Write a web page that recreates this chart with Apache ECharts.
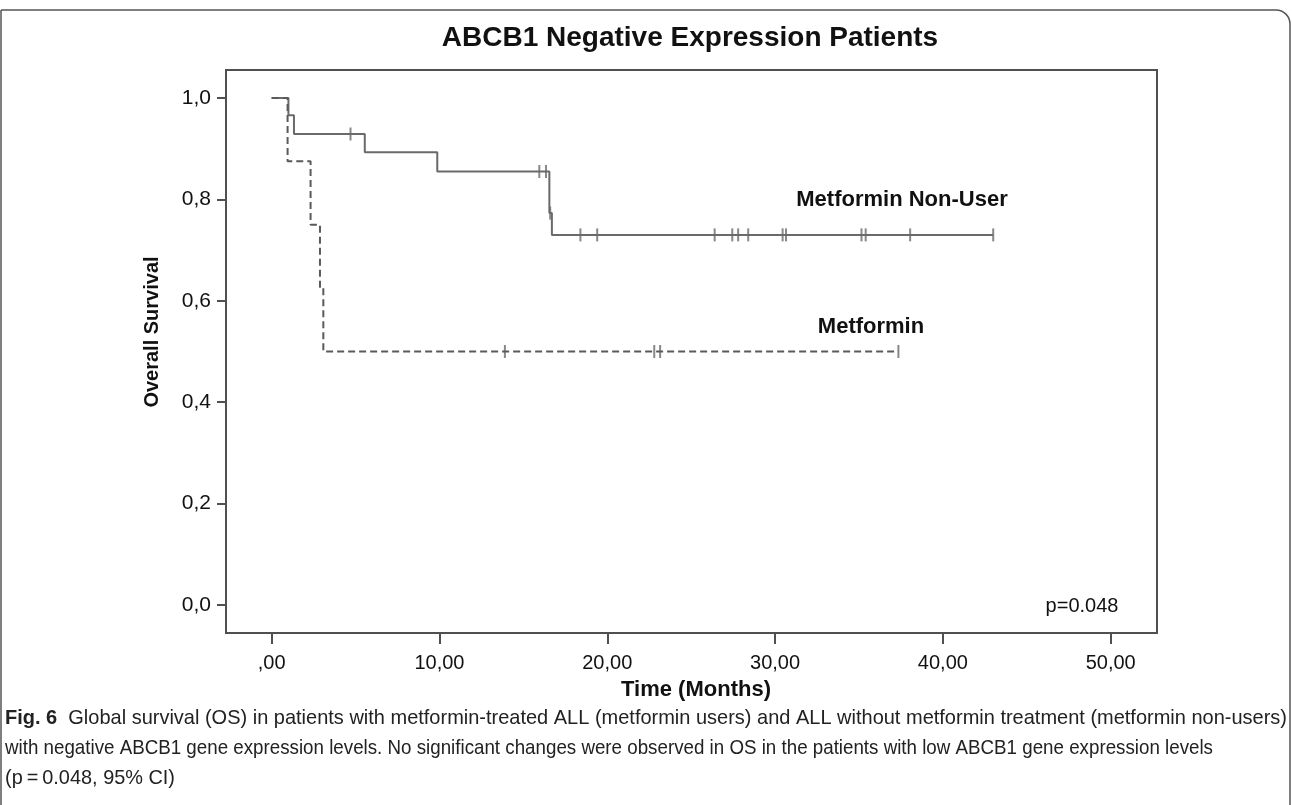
<!DOCTYPE html>
<html><head><meta charset="utf-8">
<script src="https://cdn.jsdelivr.net/npm/echarts@6/dist/echarts.min.js"></script>
<style>html,body{margin:0;padding:0;background:#fff}#c{width:1292px;height:805px}</style>
</head><body><div id="c"></div>
<script>
// ---- data ----
const nonUserTime = [0, 1.0, 1.33, 5.55, 9.87, 16.55, 16.7, 43.0];
const nonUserSurv = [1.0, 0.966, 0.929, 0.893, 0.855, 0.773, 0.730, 0.730];
const nonUserCensorTime = [4.7, 15.95, 16.35, 16.6, 18.4, 19.4, 26.4, 27.45, 27.8, 28.4, 30.45, 30.65, 35.15, 35.4, 38.05, 43.0];
const nonUserCensorSurv = [0.929, 0.855, 0.855, 0.773, 0.730, 0.730, 0.730, 0.730, 0.730, 0.730, 0.730, 0.730, 0.730, 0.730, 0.730, 0.730];

const metforminTime = [0, 0.95, 2.32, 2.88, 3.08, 37.35];
const metforminSurv = [1.0, 0.875, 0.75, 0.625, 0.5, 0.5];
const metforminCensorTime = [13.9, 22.8, 23.15, 37.35];
const metforminCensorSurv = [0.5, 0.5, 0.5, 0.5];

const xTickValues = [0, 10, 20, 30, 40, 50];
const xTickLabels = [',00', '10,00', '20,00', '30,00', '40,00', '50,00'];
const yTickValues = [0, 0.2, 0.4, 0.6, 0.8, 1.0];
const yTickLabels = ['0,0', '0,2', '0,4', '0,6', '0,8', '1,0'];

const titleText = 'ABCB1 Negative Expression Patients';
const xName = 'Time (Months)';
const yName = 'Overall Survival';
const seriesNames = ['Metformin Non-User', 'Metformin'];
const pText = 'p=0.048';
const captionBold = 'Fig. 6';
const captionLines = [
  '  Global survival (OS) in patients with metformin-treated ALL (metformin users) and ALL without metformin treatment (metformin non-users)',
  'with negative ABCB1 gene expression levels. No significant changes were observed in OS in the patients with low ABCB1 gene expression levels',
  '(p\u2009=\u20090.048, 95% CI)'
];

// ---- chart ----
const zip = (a, b) => a.map((v, i) => [v, b[i]]);
const lookup = (vals, labs) => v => {
  let best = 0;
  vals.forEach((x, i) => { if (Math.abs(x - v) < Math.abs(vals[best] - v)) best = i; });
  return labs[best];
};
const F = 'Liberation Sans, Arial, Helvetica, sans-serif';
const CF = '"Liberation Sans", Arial, sans-serif';
const CS = 21;

// measure caption lines to condense them horizontally like the reference's narrow font
const ctx = document.createElement('canvas').getContext('2d');
ctx.font = 'bold ' + CS + 'px ' + CF;
const wBold = ctx.measureText(captionBold).width;
ctx.font = CS + 'px ' + CF;
const capWidths = [1282, 1208, 170];
const capScales = [
  capWidths[0] / (wBold + ctx.measureText(captionLines[0]).width),
  capWidths[1] / ctx.measureText(captionLines[1]).width,
  capWidths[2] / ctx.measureText(captionLines[2]).width
];

const chart = echarts.init(document.getElementById('c'), null, {renderer: 'canvas'});
const option = {
  animation: false,
  backgroundColor: '#fff',
  grid: {left: 226, right: 135, top: 70, bottom: 172, show: true, borderColor: '#505050', borderWidth: 2, backgroundColor: 'transparent'},
  xAxis: {
    type: 'value', min: -2.72, max: 52.76,
    splitLine: {show: false},
    axisLine: {show: true, onZero: false, lineStyle: {color: '#505050', width: 2}},
    axisTick: {show: true, customValues: xTickValues, length: 11, lineStyle: {color: '#505050', width: 2}},
    axisLabel: {customValues: xTickValues, formatter: lookup(xTickValues, xTickLabels), margin: 20, fontSize: 20, color: '#111', fontFamily: F}
  },
  yAxis: {
    type: 'value', min: -0.0552, max: 1.0552,
    splitLine: {show: false},
    axisLine: {show: true, onZero: false, lineStyle: {color: '#505050', width: 2}},
    axisTick: {show: true, customValues: yTickValues, length: 9, lineStyle: {color: '#505050', width: 2}},
    axisLabel: {customValues: yTickValues, formatter: lookup(yTickValues, yTickLabels), margin: 15, fontSize: 21, color: '#111', fontFamily: F}
  },
  series: [
    {name: seriesNames[0], type: 'line', step: 'end', data: zip(nonUserTime, nonUserSurv), symbol: 'none',
     lineStyle: {color: '#6a6a6a', width: 2}},
    {name: seriesNames[1], type: 'line', step: 'end', data: zip(metforminTime, metforminSurv), symbol: 'none',
     lineStyle: {color: '#5a5a5a', width: 2, type: [7, 4]}},
    {type: 'scatter', data: zip(nonUserCensorTime, nonUserCensorSurv), symbol: 'rect', symbolSize: [2, 13],
     itemStyle: {color: '#6a6a6a'}},
    {type: 'scatter', data: zip(metforminCensorTime, metforminCensorSurv), symbol: 'rect', symbolSize: [2, 13],
     itemStyle: {color: '#6a6a6a'}}
  ],
  graphic: [
    {type: 'rect', silent: true, shape: {x: 1, y: 10, width: 1289, height: 840, r: [0, 14, 0, 0]},
     style: {fill: 'none', stroke: '#555', lineWidth: 1.5}},
    {type: 'text', x: 690, y: 38, style: {text: titleText, font: 'bold 28px ' + F, fill: '#111', align: 'center', verticalAlign: 'middle'}},
    {type: 'text', x: 696, y: 690, style: {text: xName, font: 'bold 22px ' + F, fill: '#111', align: 'center', verticalAlign: 'middle'}},
    {type: 'text', x: 152, y: 332, rotation: Math.PI / 2, style: {text: yName, font: 'bold 20px ' + F, fill: '#111', align: 'center', verticalAlign: 'middle'}},
    {type: 'text', x: 902, y: 200, style: {text: seriesNames[0], font: 'bold 22px ' + F, fill: '#111', align: 'center', verticalAlign: 'middle'}},
    {type: 'text', x: 871, y: 327, style: {text: seriesNames[1], font: 'bold 22px ' + F, fill: '#111', align: 'center', verticalAlign: 'middle'}},
    {type: 'text', x: 1082, y: 606, style: {text: pText, font: '20px ' + F, fill: '#111', align: 'center', verticalAlign: 'middle'}},
    {type: 'text', x: 5, y: 718, scaleX: capScales[0], style: {text: '{b|' + captionBold + '}' + captionLines[0], font: CS + 'px ' + CF, fill: '#222', align: 'left', verticalAlign: 'middle',
      rich: {b: {fontWeight: 'bold', fontSize: CS, fontFamily: CF, fill: '#222'}}}},
    {type: 'text', x: 5, y: 748, scaleX: capScales[1], style: {text: captionLines[1], font: CS + 'px ' + CF, fill: '#222', align: 'left', verticalAlign: 'middle'}},
    {type: 'text', x: 5, y: 778, scaleX: capScales[2], style: {text: captionLines[2], font: CS + 'px ' + CF, fill: '#222', align: 'left', verticalAlign: 'middle'}}
  ]
};
chart.setOption(option);
</script>
</body></html>
